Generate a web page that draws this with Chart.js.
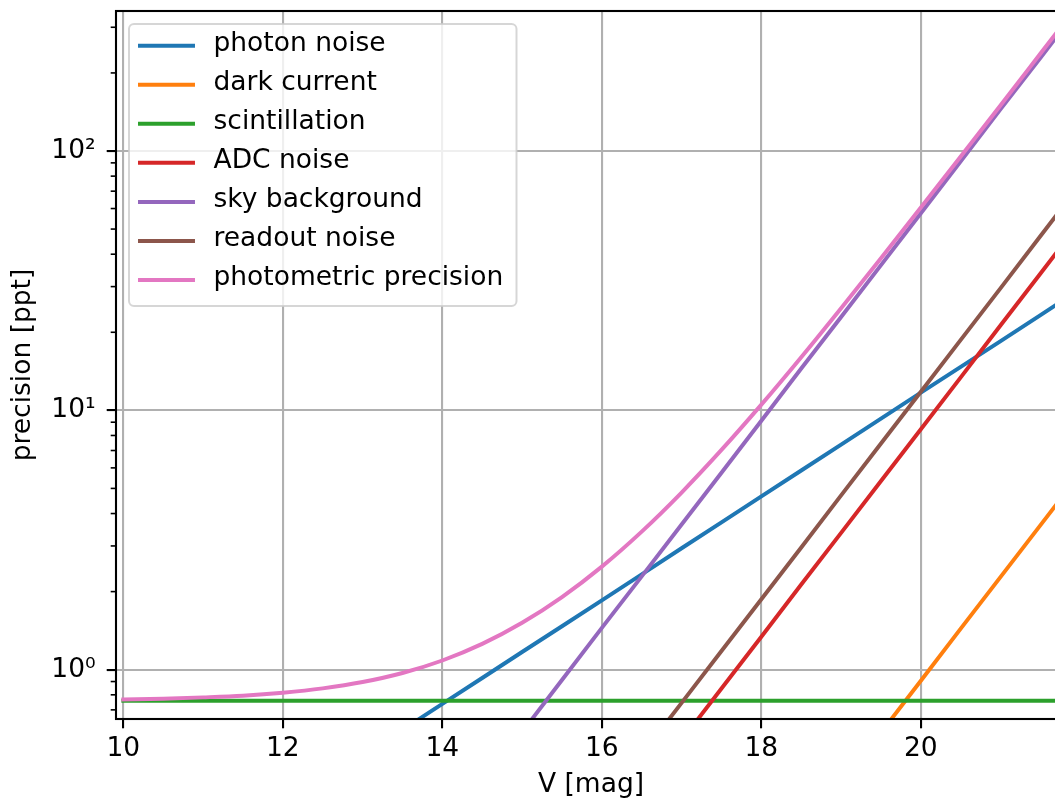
<!DOCTYPE html>
<html>
<head>
<meta charset="utf-8">
<script src="https://cdn.jsdelivr.net/npm/chart.js@4/dist/chart.umd.min.js"></script>
<style>
  html, body { margin: 0; padding: 0; overflow: hidden; background: #fff; }
  canvas { display: block; }
</style>
</head>
<body>
<canvas id="myChart" width="1070" height="798"></canvas>
<script>
// V magnitude samples, every 0.5 mag
const mag = [10, 10.5, 11, 11.5, 12, 12.5, 13, 13.5, 14, 14.5, 15, 15.5, 16,
  16.5, 17, 17.5, 18, 18.5, 19, 19.5, 20, 20.5, 21, 21.5, 22];

// noise terms in ppt
const photonNoise = [0.117, 0.147, 0.185, 0.233, 0.294, 0.370, 0.466, 0.586, 0.738,
  0.929, 1.17, 1.47, 1.85, 2.33, 2.94, 3.70, 4.66, 5.86, 7.38, 9.29, 11.7, 14.7,
  18.5, 23.3, 29.4];
const darkCurrent = [0.0000907, 0.000144, 0.000228, 0.000361, 0.000572, 0.000907,
  0.00144, 0.00228, 0.00361, 0.00572, 0.00907, 0.0144, 0.0228, 0.0361, 0.0572,
  0.0907, 0.144, 0.228, 0.361, 0.572, 0.907, 1.44, 2.28, 3.61, 5.72];
const scintillation = [0.759, 0.759, 0.759, 0.759, 0.759, 0.759, 0.759, 0.759,
  0.759, 0.759, 0.759, 0.759, 0.759, 0.759, 0.759, 0.759, 0.759, 0.759, 0.759,
  0.759, 0.759, 0.759, 0.759, 0.759, 0.759];
const adcNoise = [0.000846, 0.00134, 0.00213, 0.00337, 0.00534, 0.00846, 0.0134,
  0.0213, 0.0337, 0.0534, 0.0846, 0.134, 0.213, 0.337, 0.534, 0.846, 1.34, 2.13,
  3.37, 5.34, 8.46, 13.4, 21.3, 33.7, 53.4];
const skyBackground = [0.00575, 0.00912, 0.0145, 0.0229, 0.0363, 0.0575, 0.0912,
  0.145, 0.229, 0.363, 0.575, 0.912, 1.45, 2.29, 3.63, 5.75, 9.12, 14.5, 22.9,
  36.3, 57.5, 91.2, 145, 229, 363];
const readoutNoise = [0.00118, 0.00187, 0.00296, 0.0047, 0.00745, 0.0118, 0.0187,
  0.0296, 0.047, 0.0745, 0.118, 0.187, 0.296, 0.47, 0.745, 1.18, 1.87, 2.96, 4.70,
  7.45, 11.8, 18.7, 29.6, 47.0, 74.5];
const photometricPrecision = [0.768, 0.773, 0.782, 0.794, 0.815, 0.847, 0.896,
  0.971, 1.085, 1.257, 1.516, 1.905, 2.497, 3.407, 4.821, 7.035, 10.52, 16.03,
  24.77, 38.60, 60.50, 95.22, 150.2, 237.5, 375.7];

const seriesNames = ["photon noise", "dark current", "scintillation", "ADC noise",
  "sky background", "readout noise", "photometric precision"];
const seriesValues = [photonNoise, darkCurrent, scintillation, adcNoise,
  skyBackground, readoutNoise, photometricPrecision];
const seriesColors = ["#1f77b4", "#ff7f0e", "#2ca02c", "#d62728", "#9467bd",
  "#8c564b", "#e377c2"];

const xTicks = [10, 12, 14, 16, 18, 20];
const yTicks = [1, 10, 100];
const yTickLabels = ["10⁰", "10¹", "10²"];
const yMinorTicks = [0.7, 0.8, 0.9, 2, 3, 4, 5, 6, 7, 8, 9, 20, 30, 40, 50, 60,
  70, 80, 90, 200, 300];

const FONT = "DejaVu Sans";
const FS = 26.5;
const LW = 3.97;

// minor ticks, the full axes frame and a matplotlib-like legend
const framePlugin = {
  id: "frame",
  afterDraw(chart) {
    const { ctx, chartArea: a } = chart;
    const yScale = chart.scales.y;
    ctx.save();

    ctx.strokeStyle = "#000";
    ctx.lineWidth = 1.6;
    yMinorTicks.forEach((v) => {
      const py = yScale.getPixelForValue(v);
      ctx.beginPath();
      ctx.moveTo(a.left - 5.3, py);
      ctx.lineTo(a.left, py);
      ctx.stroke();
    });

    ctx.lineWidth = 2.1;
    ctx.strokeRect(a.left, a.top, a.right - a.left, a.bottom - a.top);

    // legend
    const box = { left: 129, top: 24, right: 516.5, bottom: 306 };
    ctx.beginPath();
    ctx.roundRect(box.left, box.top, box.right - box.left, box.bottom - box.top, 5);
    ctx.fillStyle = "rgba(255,255,255,0.8)";
    ctx.fill();
    ctx.strokeStyle = "rgba(204,204,204,0.8)";
    ctx.lineWidth = 2;
    ctx.stroke();

    ctx.font = FS + 'px "' + FONT + '"';
    ctx.textBaseline = "middle";
    ctx.textAlign = "left";
    chart.data.datasets.forEach((ds, i) => {
      const cy = 45.7 + i * 39.05;
      ctx.beginPath();
      ctx.strokeStyle = ds.borderColor;
      ctx.lineWidth = LW;
      ctx.lineCap = "square";
      ctx.moveTo(140, cy);
      ctx.lineTo(193, cy);
      ctx.stroke();
      ctx.fillStyle = "#000";
      ctx.fillText(ds.label, 213.5, cy - 2);
    });
    ctx.restore();
  },
};

const ctx = document.getElementById("myChart");
const myChart = new Chart(ctx, {
  type: "line",
  data: {
    datasets: seriesNames.map((name, i) => ({
      label: name,
      data: mag.map((m, j) => ({ x: m, y: seriesValues[i][j] })),
      borderColor: seriesColors[i],
      backgroundColor: seriesColors[i],
      borderWidth: LW,
      borderCapStyle: "square",
      pointRadius: 0,
      tension: 0,
      cubicInterpolationMode: i === 6 ? "monotone" : "default",
      clip: 0,
      order: seriesNames.length - i,
    })),
  },
  options: {
    responsive: false,
    animation: false,
    events: [],
    layout: { padding: { left: 0, top: 11, right: 4, bottom: 0 } },
    plugins: {
      legend: { display: false },
      tooltip: { enabled: false },
    },
    scales: {
      x: {
        type: "linear",
        min: 9.908,
        max: 21.82,
        bounds: "data",
        afterBuildTicks: (s) => {
          s.ticks = xTicks.map((v) => ({ value: v }));
        },
        afterFit: (s) => {
          s.height = 79;
          s.paddingLeft = 0;
          s.paddingRight = 0;
        },
        ticks: {
          color: "#000",
          font: { family: FONT, size: FS, lineHeight: 1.2 },
          padding: 5,
          maxRotation: 0,
          autoSkip: false,
          callback: (v) => String(v),
        },
        grid: {
          color: "#b0b0b0",
          lineWidth: 2.1,
          tickColor: "#000",
          tickWidth: 2.1,
          tickLength: 9.3,
        },
        border: { display: false },
        title: {
          display: true,
          text: "V [mag]",
          color: "#000",
          font: { family: FONT, size: FS, lineHeight: 1 },
          padding: { top: 0, bottom: 0 },
        },
      },
      y: {
        type: "logarithmic",
        min: 0.6454,
        max: 346.6,
        bounds: "data",
        afterBuildTicks: (s) => {
          s.ticks = yTicks.map((v) => ({ value: v }));
        },
        afterFit: (s) => {
          s.width = 116;
          s.paddingTop = 0;
          s.paddingBottom = 0;
        },
        ticks: {
          color: "#000",
          font: { family: FONT, size: FS, lineHeight: 1.2 },
          padding: 11,
          autoSkip: false,
          callback: (v) => yTickLabels[yTicks.indexOf(v)],
        },
        grid: {
          color: "#b0b0b0",
          lineWidth: 2.1,
          tickColor: "#000",
          tickWidth: 2.1,
          tickLength: 9.3,
        },
        border: { display: false },
        title: {
          display: true,
          text: "precision [ppt]",
          color: "#000",
          font: { family: FONT, size: FS, lineHeight: 1 },
          padding: { top: 10, bottom: 0 },
        },
      },
    },
  },
  plugins: [framePlugin],
});
</script>
</body>
</html>
